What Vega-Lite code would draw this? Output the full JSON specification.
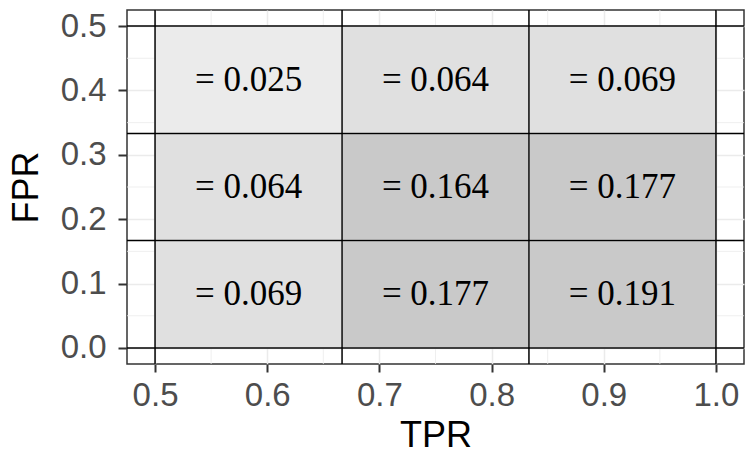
{
  "$schema": "https://vega.github.io/schema/vega-lite/v6.json",
  "autosize": {"type": "none"},
  "padding": {"left": 127, "top": 10, "right": 2, "bottom": 96},
  "width": 617,
  "height": 354,
  "background": "white",
  "view": {"stroke": "#333333", "strokeWidth": 1.5},
  "datasets": {
    "tiles": [
      {"tpr0": 0.5, "tpr1": 0.6667, "fpr0": 0.3333, "fpr1": 0.5, "value": 0.025, "label": "= 0.025"},
      {"tpr0": 0.6667, "tpr1": 0.8333, "fpr0": 0.3333, "fpr1": 0.5, "value": 0.064, "label": "= 0.064"},
      {"tpr0": 0.8333, "tpr1": 1.0, "fpr0": 0.3333, "fpr1": 0.5, "value": 0.069, "label": "= 0.069"},
      {"tpr0": 0.5, "tpr1": 0.6667, "fpr0": 0.1667, "fpr1": 0.3333, "value": 0.064, "label": "= 0.064"},
      {"tpr0": 0.6667, "tpr1": 0.8333, "fpr0": 0.1667, "fpr1": 0.3333, "value": 0.164, "label": "= 0.164"},
      {"tpr0": 0.8333, "tpr1": 1.0, "fpr0": 0.1667, "fpr1": 0.3333, "value": 0.177, "label": "= 0.177"},
      {"tpr0": 0.5, "tpr1": 0.6667, "fpr0": 0.0, "fpr1": 0.1667, "value": 0.069, "label": "= 0.069"},
      {"tpr0": 0.6667, "tpr1": 0.8333, "fpr0": 0.0, "fpr1": 0.1667, "value": 0.177, "label": "= 0.177"},
      {"tpr0": 0.8333, "tpr1": 1.0, "fpr0": 0.0, "fpr1": 0.1667, "value": 0.191, "label": "= 0.191"}
    ],
    "vlines": [{"tpr": 0.5}, {"tpr": 0.6667}, {"tpr": 0.8333}, {"tpr": 1.0}],
    "hlines": [{"fpr": 0.0}, {"fpr": 0.1667}, {"fpr": 0.3333}, {"fpr": 0.5}],
    "minorx": [{"tpr": 0.55}, {"tpr": 0.65}, {"tpr": 0.75}, {"tpr": 0.85}, {"tpr": 0.95}],
    "minory": [{"fpr": 0.05}, {"fpr": 0.15}, {"fpr": 0.25}, {"fpr": 0.35}, {"fpr": 0.45}]
  },
  "config": {
    "axis": {
      "labelFont": "Liberation Sans",
      "titleFont": "Liberation Sans",
      "labelColor": "#4d4d4d",
      "titleColor": "#000000",
      "labelFontSize": 33,
      "titleFontSize": 36,
      "titleFontWeight": "normal",
      "tickColor": "#333333",
      "tickWidth": 2,
      "tickSize": 8,
      "domain": false,
      "grid": true,
      "gridColor": "#ebebeb",
      "gridWidth": 1.5
    }
  },
  "layer": [
    {
      "data": {"name": "minorx"},
      "mark": {"type": "rule", "color": "#ebebeb", "strokeWidth": 0.8},
      "encoding": {
        "x": {"field": "tpr", "type": "quantitative", "scale": {"domain": [0.475, 1.025], "nice": false, "zero": false},
          "axis": {"title": "TPR", "values": [0.5, 0.6, 0.7, 0.8, 0.9, 1.0], "format": ".1f", "labelPadding": 7, "titlePadding": 6}}
      }
    },
    {
      "data": {"name": "minory"},
      "mark": {"type": "rule", "color": "#ebebeb", "strokeWidth": 0.8},
      "encoding": {
        "y": {"field": "fpr", "type": "quantitative", "scale": {"domain": [-0.025, 0.525], "nice": false, "zero": false},
          "axis": {"title": "FPR", "values": [0.0, 0.1, 0.2, 0.3, 0.4, 0.5], "format": ".1f", "labelPadding": 12, "tickSize": 9, "titlePadding": 15}}
      }
    },
    {
      "data": {"name": "tiles"},
      "mark": {"type": "rect", "stroke": "white", "strokeWidth": 1.5},
      "encoding": {
        "x": {"field": "tpr0", "type": "quantitative"},
        "x2": {"field": "tpr1"},
        "y": {"field": "fpr0", "type": "quantitative"},
        "y2": {"field": "fpr1"},
        "color": {"field": "value", "type": "quantitative", "legend": null,
          "scale": {"type": "threshold", "domain": [0.05, 0.1], "range": ["#ebebeb", "#e0e0e0", "#c9c9c9"]}}
      }
    },
    {
      "data": {"name": "vlines"},
      "mark": {"type": "rule", "color": "#000000", "strokeWidth": 1.5},
      "encoding": {"x": {"field": "tpr", "type": "quantitative"}}
    },
    {
      "data": {"name": "hlines"},
      "mark": {"type": "rule", "color": "#000000", "strokeWidth": 1.5},
      "encoding": {"y": {"field": "fpr", "type": "quantitative"}}
    },
    {
      "data": {"name": "tiles"},
      "transform": [
        {"calculate": "(datum.tpr0 + datum.tpr1) / 2", "as": "tx"},
        {"calculate": "(datum.fpr0 + datum.fpr1) / 2", "as": "ty"}
      ],
      "mark": {"type": "text", "font": "Liberation Serif", "fontSize": 35, "color": "#000000", "align": "center", "baseline": "middle"},
      "encoding": {
        "x": {"field": "tx", "type": "quantitative"},
        "y": {"field": "ty", "type": "quantitative"},
        "text": {"field": "label"}
      }
    }
  ]
}
